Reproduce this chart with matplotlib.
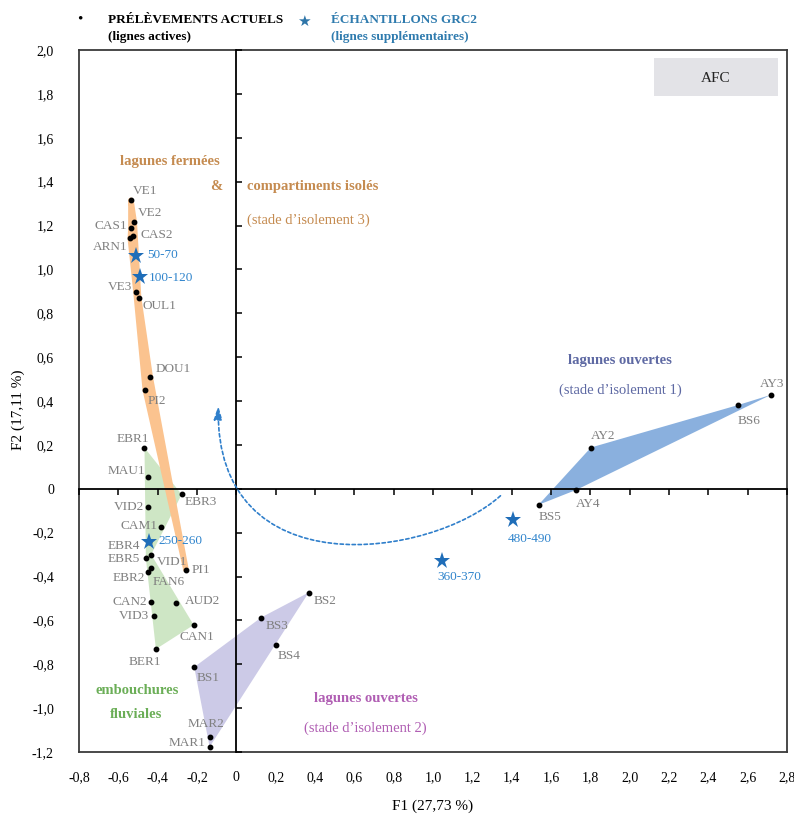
import matplotlib
matplotlib.use('Agg')
import matplotlib.pyplot as plt
from matplotlib.patches import Polygon, FancyArrowPatch, Rectangle
from matplotlib.path import Path

plt.rcParams['font.family'] = ['Liberation Serif', 'DejaVu Serif']

# ---------------- data ----------------
active_names = ["VE1", "VE2", "CAS1", "CAS2", "ARN1", "VE3", "OUL1", "DOU1", "PI2",
                "EBR1", "MAU1", "EBR3", "VID2", "CAM1", "EBR4", "VID1", "EBR5", "FAN6",
                "EBR2", "PI1", "CAN2", "AUD2", "VID3", "CAN1", "BER1",
                "BS1", "BS2", "BS3", "BS4", "MAR2", "MAR1",
                "AY2", "AY3", "AY4", "BS5", "BS6"]
active_f1 = [-0.536, -0.519, -0.536, -0.523, -0.539, -0.510, -0.497, -0.438, -0.463,
             -0.467, -0.450, -0.278, -0.450, -0.385, -0.445, -0.433, -0.460, -0.436,
             -0.447, -0.256, -0.434, -0.305, -0.421, -0.217, -0.409,
             -0.214, 0.368, 0.126, 0.202, -0.136, -0.136,
             1.803, 2.718, 1.729, 1.537, 2.553]
active_f2 = [1.315, 1.214, 1.187, 1.153, 1.141, 0.895, 0.871, 0.510, 0.451,
             0.187, 0.052, -0.026, -0.083, -0.176, -0.245, -0.300, -0.317, -0.360,
             -0.380, -0.369, -0.516, -0.522, -0.578, -0.621, -0.731,
             -0.813, -0.473, -0.587, -0.710, -1.132, -1.177,
             0.188, 0.428, -0.005, -0.073, 0.382]

sup_names = ["50-70", "100-120", "250-260", "360-370", "480-490"]
sup_f1 = [-0.509, -0.492, -0.443, 1.048, 1.408]
sup_f2 = [1.062, 0.963, -0.243, -0.328, -0.144]

x_ticks = [-0.8, -0.6, -0.4, -0.2, 0.0, 0.2, 0.4, 0.6, 0.8, 1.0, 1.2, 1.4, 1.6, 1.8,
           2.0, 2.2, 2.4, 2.6, 2.8]
x_tick_labels = ["-0,8", "-0,6", "-0,4", "-0,2", "0", "0,2", "0,4", "0,6", "0,8", "1,0",
                 "1,2", "1,4", "1,6", "1,8", "2,0", "2,2", "2,4", "2,6", "2,8"]
y_ticks = [-1.2, -1.0, -0.8, -0.6, -0.4, -0.2, 0.0, 0.2, 0.4, 0.6, 0.8, 1.0, 1.2, 1.4,
           1.6, 1.8, 2.0]
y_tick_labels = ["-1,2", "-1,0", "-0,8", "-0,6", "-0,4", "-0,2", "0", "0,2", "0,4", "0,6",
                 "0,8", "1,0", "1,2", "1,4", "1,6", "1,8", "2,0"]

# group envelopes (vertex order by sample name)
group_closed = ["VE1", "VE2", "OUL1", "DOU1", "PI1", "PI2", "VE3", "ARN1", "CAS1"]
group_mouths = ["EBR1", "EBR3", "VID1", "CAN1", "BER1", "EBR5"]
group_open2 = ["BS1", "BS3", "BS2", "MAR1"]
group_open1 = ["BS5", "AY2", "BS6", "AY3", "AY4"]

# ---------------- label placement (pixels offsets, ha) ----------------
label_pos = {
    "VE1": (2, 9, 'left'), "VE2": (4, 9, 'left'), "CAS1": (-4, 2, 'right'),
    "CAS2": (7, 1, 'left'), "ARN1": (-3, -9, 'right'), "VE3": (-4, 5, 'right'),
    "OUL1": (4, -8, 'left'), "DOU1": (5, 8, 'left'), "PI2": (2, -11, 'left'),
    "EBR1": (5, 9, 'right'), "MAU1": (-3, 6, 'right'), "EBR3": (3, -8, 'left'),
    "VID2": (-4, 0, 'right'), "CAM1": (-3, 1, 'right'), "EBR4": (-9, -4, 'right'),
    "VID1": (6, -7, 'left'), "EBR5": (-6, -1, 'right'), "FAN6": (2, -14, 'left'),
    "EBR2": (-3, -6, 'right'), "PI1": (6, 0, 'left'), "CAN2": (-4, 0, 'right'),
    "AUD2": (9, 2, 'left'), "VID3": (-5, 0, 'right'), "CAN1": (-14, -12, 'left'),
    "BER1": (5, -13, 'right'), "BS1": (2, -11, 'left'), "BS2": (5, -8, 'left'),
    "BS3": (4, -8, 'left'), "BS4": (2, -11, 'left'), "MAR2": (15, 13, 'right'),
    "MAR1": (-4, 4, 'right'), "AY2": (0, 12, 'left'), "AY3": (1, 11, 'center'),
    "AY4": (0, -14, 'left'), "BS5": (0, -12, 'left'), "BS6": (-1, -16, 'left'),
}
sup_label_pos = {
    "50-70": (11, 1, 'left'), "100-120": (9, -1, 'left'), "250-260": (9, 1, 'left'),
    "360-370": (-5, -16, 'left'), "480-490": (17, -19, 'center'),
}

GREY = '#7F7F7F'
STAR = '#1F6DB8'
STAR_TXT = '#2F84CC'
ORANGE_TXT = '#C58B50'

W, H = 794, 815
fig = plt.figure(figsize=(W / 100, H / 100), dpi=100)
pos = [79 / W, 1 - 752 / H, (787 - 79) / W, (752 - 50) / H]

xlim = (-0.8, 2.8)
ylim = (-1.2, 2.0)

# frame axes with tick labels
axf = fig.add_axes(pos)
axf.set_xlim(*xlim)
axf.set_ylim(*ylim)
axf.set_xticks(x_ticks)
axf.set_xticklabels(x_tick_labels)
axf.set_yticks(y_ticks)
axf.set_yticklabels(y_tick_labels)
axf.tick_params(axis='x', length=0, pad=14, labelsize=10)
axf.tick_params(axis='y', length=0, pad=18, labelsize=10)
for s in axf.spines.values():
    s.set_color('#3a3a3a')
    s.set_linewidth(1.3)

# data axes with spines through zero
ax = fig.add_axes(pos)
ax.set_xlim(*xlim)
ax.set_ylim(*ylim)
ax.patch.set_visible(False)
ax.spines['left'].set_position(('data', 0))
ax.spines['bottom'].set_position(('data', 0))
ax.spines['top'].set_visible(False)
ax.spines['right'].set_visible(False)
for s in ('left', 'bottom'):
    ax.spines[s].set_linewidth(1.3)
    ax.spines[s].set_color('black')
ax.set_xticks(x_ticks)
ax.set_yticks(y_ticks)
ax.tick_params(axis='x', direction='out', length=4, width=1.1, labelbottom=False)
ax.tick_params(axis='y', direction='in', length=4, width=1.1, labelleft=False)

coords = {n: (x, y) for n, x, y in zip(active_names, active_f1, active_f2)}


def envelope(names, fc, alpha, z, lw=0.0):
    pts = [coords[n] for n in names]
    p = Polygon(pts, closed=True, facecolor=fc, edgecolor=fc if lw else 'none',
                linewidth=lw, alpha=alpha, zorder=z, joinstyle='round')
    ax.add_patch(p)


envelope(group_mouths, '#B5D9A6', 0.65, 1)
envelope(group_open2, '#B7B4DD', 0.7, 1)
envelope(group_open1, '#7DA8DB', 0.9, 1)
envelope(group_closed, '#FBC38F', 1.0, 2, lw=4.0)

# curved dashed arrow (annotation)
arrow_path = Path([(1.343, -0.032), (0.987, -0.319), (-0.107, -0.455), (-0.092, 0.378)],
                  [Path.MOVETO, Path.CURVE4, Path.CURVE4, Path.CURVE4])
arr = FancyArrowPatch(path=arrow_path, arrowstyle='-|>,head_length=0.45,head_width=0.14',
                      mutation_scale=18, color='#2F7FCB', linewidth=1.2,
                      linestyle=(0, (2, 1.6)), zorder=3)
ax.add_patch(arr)

# points
ax.plot(active_f1, active_f2, 'o', color='black', markersize=3.2, zorder=5, linestyle='none')
ax.plot(sup_f1, sup_f2, '*', color=STAR, markersize=12.5, zorder=6, linestyle='none',
        markeredgewidth=0)

for n, x, y in zip(active_names, active_f1, active_f2):
    dx, dy, ha = label_pos[n]
    ax.annotate(n, (x, y), xytext=(dx, dy), textcoords='offset pixels', ha=ha,
                va='center', fontsize=9.5, color=GREY, zorder=7)
for n, x, y in zip(sup_names, sup_f1, sup_f2):
    dx, dy, ha = sup_label_pos[n]
    ax.annotate(n, (x, y), xytext=(dx, dy), textcoords='offset pixels', ha=ha,
                va='center', fontsize=9.5, color=STAR_TXT, zorder=7)

# group titles
ax.text(-0.336, 1.493, "lagunes fermées", ha='center', va='center', fontsize=10.5,
        fontweight='bold', color=ORANGE_TXT)
ax.text(-0.102, 1.379, "&", ha='center', va='center', fontsize=10.5,
        fontweight='bold', color=ORANGE_TXT)
ax.text(0.056, 1.379, "compartiments isolés", ha='left', va='center', fontsize=10.5,
        fontweight='bold', color=ORANGE_TXT)
ax.text(0.056, 1.224, "(stade d\u2019isolement 3)", ha='left', va='center', fontsize=10.5,
        color=ORANGE_TXT)

OPEN1_TXT = '#5E69A3'
ax.text(1.949, 0.583, "lagunes ouvertes", ha='center', va='center', fontsize=10.5,
        fontweight='bold', color=OPEN1_TXT)
ax.text(1.952, 0.451, "(stade d\u2019isolement 1)", ha='center', va='center', fontsize=10.5,
        color=OPEN1_TXT)

GREEN_TXT = '#6BAE57'
ax.text(-0.506, -0.919, "embouchures", ha='center', va='center', fontsize=10.5,
        fontweight='bold', color=GREEN_TXT)
ax.text(-0.509, -1.029, "fluviales", ha='center', va='center', fontsize=10.5,
        fontweight='bold', color=GREEN_TXT)

PURPLE_TXT = '#B05EB3'
ax.text(0.659, -0.956, "lagunes ouvertes", ha='center', va='center', fontsize=10.5,
        fontweight='bold', color=PURPLE_TXT)
ax.text(0.656, -1.092, "(stade d\u2019isolement 2)", ha='center', va='center', fontsize=10.5,
        color=PURPLE_TXT)

# AFC box
ax.add_patch(Rectangle((2.122, 1.789), 0.631, 0.173, facecolor='#E3E3E7',
                       edgecolor='none', zorder=1))
ax.text(2.438, 1.872, "AFC", ha='center', va='center', fontsize=11, color='#222222')

# axis titles
fig.text(433 / W, 1 - 806 / H, "F1 (27,73 %)", ha='center', va='center', fontsize=11)
fig.text(18 / W, 1 - 410 / H, "F2 (17,11 %)", ha='center', va='center', fontsize=11,
         rotation=90)

# legend
fig.text(80 / W, 1 - 19 / H, "\u2022", ha='center', va='center', fontsize=11, color='black')
fig.text(108 / W, 1 - 20 / H, "PRÉLÈVEMENTS ACTUELS", ha='left', va='center',
         fontsize=9.5, fontweight='bold', color='black')
fig.text(108 / W, 1 - 37 / H, "(lignes actives)", ha='left', va='center',
         fontsize=9.5, fontweight='bold', color='black')
fig.text(304 / W, 1 - 21 / H, "\u2605", ha='center', va='center', fontsize=11,
         color='#2E75A8', family=['DejaVu Sans'])
LEG_BLUE = '#2F7BAE'
fig.text(331 / W, 1 - 20 / H, "ÉCHANTILLONS GRC2", ha='left', va='center',
         fontsize=9.5, fontweight='bold', color=LEG_BLUE)
fig.text(331 / W, 1 - 37 / H, "(lignes supplémentaires)", ha='left', va='center',
         fontsize=9.5, fontweight='bold', color=LEG_BLUE)

fig.savefig('out.png', dpi=100)
